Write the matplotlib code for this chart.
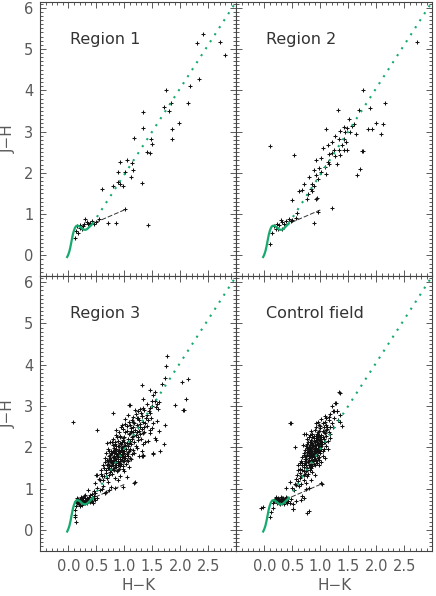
import numpy as np
import matplotlib
matplotlib.use("Agg")
import matplotlib.pyplot as plt
from matplotlib.ticker import MultipleLocator, FixedLocator

# colours
GREEN = "#17aa6e"
GREY = "#5a5a5a"

# intrinsic colour locus (dwarfs + giant tip)
locus_hk = [-0.02, 0.00, 0.02, 0.04, 0.06, 0.08, 0.10, 0.12, 0.14, 0.16, 0.19,
            0.22, 0.25, 0.28, 0.31, 0.34, 0.37, 0.40, 0.43]
locus_jh = [-0.04, 0.02, 0.10, 0.22, 0.36, 0.50, 0.60, 0.67, 0.71, 0.72, 0.71,
            0.68, 0.64, 0.62, 0.62, 0.64, 0.68, 0.72, 0.76]

# reddening vector from the giant tip
redd_hk = [0.43, 3.0]
redd_jh = [0.76, 6.15]

# CTTS locus
ctts_hk = [0.37, 1.0]
ctts_jh = [0.73, 1.10]

region1 = [
    (2.41, 5.36), (2.30, 5.15), (2.70, 5.17), (2.80, 4.86), (2.33, 4.27), (2.18, 4.10),
    (2.14, 3.68), (1.74, 4.00), (1.71, 3.59), (1.80, 3.49), (1.83, 3.69), (1.34, 3.48),
    (1.98, 3.21), (1.85, 3.06), (1.86, 2.81), (1.33, 3.09), (1.17, 2.85), (1.48, 2.83),
    (1.45, 2.48), (1.41, 2.51), (0.92, 2.27), (1.04, 2.31), (1.13, 2.24), (0.89, 2.02),
    (1.02, 2.02), (1.16, 2.06), (1.12, 1.90), (0.92, 1.72), (0.88, 1.77), (0.97, 1.69),
    (0.79, 1.68), (0.61, 1.60), (1.31, 1.76), (1.42, 0.73), (1.01, 1.13), (0.70, 0.79),
    (0.86, 0.79), (1.50, 2.70),
    (0.12, 0.43), (0.14, 0.59), (0.21, 0.67), (0.27, 0.71), (0.30, 0.87), (0.34, 0.81),
    (0.39, 0.79), (0.45, 0.77), (0.18, 0.55), (0.24, 0.63), (0.36, 0.75), (0.42, 0.83),
    (0.16, 0.71), (0.20, 0.73), (0.50, 0.82), (0.55, 0.88), (0.28, 0.76),
]

region2 = [
    (2.72, 5.17), (1.77, 4.00), (1.32, 3.53), (1.69, 3.53), (1.89, 3.57), (2.15, 3.68),
    (2.00, 3.21), (2.12, 3.19), (1.86, 3.07), (1.93, 3.05), (2.09, 2.93), (1.52, 3.31),
    (1.61, 3.19), (1.57, 3.13), (1.48, 3.09), (1.42, 3.10), (1.35, 3.02), (1.44, 2.98),
    (1.53, 2.98), (1.63, 2.93), (1.11, 3.05), (1.26, 2.90), (1.34, 2.82), (1.42, 2.82),
    (1.45, 2.74), (1.13, 2.67), (1.24, 2.56), (1.33, 2.56), (1.42, 2.56), (1.48, 2.56),
    (1.16, 2.46), (1.20, 2.48), (1.26, 2.40), (1.35, 2.44), (1.75, 2.54), (1.77, 2.52),
    (1.13, 2.27), (1.15, 2.22), (1.08, 2.14), (1.29, 2.22), (0.93, 2.32), (0.88, 2.08),
    (0.98, 2.12), (1.01, 2.02), (1.10, 1.96), (0.92, 1.94), (1.71, 2.10), (1.65, 1.94),
    (0.10, 2.65), (0.53, 2.44), (0.95, 1.84), (0.86, 1.72), (0.71, 1.73), (0.62, 1.57),
    (0.67, 1.58), (0.88, 1.68), (0.83, 1.60), (0.86, 1.57), (0.78, 1.48), (0.93, 1.37),
    (0.94, 1.40), (0.50, 1.33), (0.76, 1.37), (0.59, 1.03), (0.96, 1.06), (1.20, 1.15),
    (0.89, 0.79), (1.05, 2.60), (1.20, 2.75), (1.38, 2.68), (1.02, 2.36), (0.80, 1.90),
    (0.11, 0.27), (0.14, 0.55), (0.17, 0.71), (0.23, 0.77), (0.29, 0.85), (0.32, 0.81),
    (0.27, 0.73), (0.35, 0.77), (0.38, 0.83), (0.47, 0.83), (0.50, 0.85), (0.25, 0.65),
    (0.32, 0.63), (0.20, 0.63), (0.44, 0.87), (0.56, 0.91),
]

region3 = [
    (1.76, 4.20), (1.74, 3.98), (2.14, 3.65), (2.03, 3.58), (1.73, 3.67), (1.68, 3.53),
    (1.31, 3.51), (1.45, 3.39), (1.55, 3.35), (1.52, 3.27), (1.34, 3.17), (1.08, 3.03),
    (1.49, 3.11), (2.10, 3.17), (2.07, 2.91), (0.79, 2.83), (0.08, 2.61), (0.51, 2.42),
    (1.73, 2.53), (1.70, 2.08), (1.52, 1.84), (1.34, 1.82), (1.61, 2.93), (1.64, 1.90),
    (1.31, 1.79), (1.19, 1.15),
    (1.54, 3.11), (1.58, 3.05), (1.50, 3.00), (1.91, 3.03), (2.05, 2.91), (1.34, 2.95),
    (1.25, 2.87), (1.19, 2.91), (1.10, 3.03), (1.40, 2.79), (1.46, 2.83), (1.31, 2.75),
    (1.22, 2.71), (1.13, 2.67), (1.07, 2.79), (0.95, 2.55), (1.04, 2.52), (1.16, 2.50),
    (1.28, 2.57), (1.37, 2.59), (1.52, 2.59), (1.01, 2.38), (1.10, 2.34), (1.22, 2.38),
    (1.34, 2.34), (1.46, 2.34), (1.55, 2.22), (0.86, 2.30), (0.92, 2.26), (0.98, 2.22),
    (1.06, 2.20), (1.14, 2.25), (1.25, 2.18), (1.37, 2.12), (0.69, 2.10), (0.75, 2.14),
    (0.80, 2.06), (0.86, 2.02), (0.92, 2.10), (1.00, 2.02), (1.07, 2.04), (1.16, 1.94),
    (1.22, 1.98), (1.31, 1.90), (1.52, 1.86), (1.34, 1.78), (0.72, 1.90), (0.77, 1.86),
    (0.83, 1.94), (0.89, 1.82), (0.95, 1.88), (1.01, 1.78), (1.10, 1.74), (0.66, 1.74),
    (0.72, 1.70), (0.79, 1.66), (0.85, 1.71), (0.91, 1.62), (0.98, 1.66), (0.69, 1.58),
    (0.76, 1.54), (0.82, 1.50), (0.89, 1.46), (1.00, 1.42), (0.58, 1.46), (0.51, 1.34),
    (0.60, 1.30), (0.69, 1.26), (0.89, 1.21), (0.57, 1.21), (0.48, 1.13), (1.18, 1.13),
    (0.98, 1.04), (0.83, 1.01), (0.72, 0.97), (0.60, 0.99), (0.66, 0.89), (0.36, 0.97),
    (0.30, 0.85), (0.39, 0.85), (0.45, 0.81), (0.24, 0.77), (0.18, 0.75), (0.33, 0.73),
    (0.41, 0.69), (0.27, 0.65), (0.15, 0.65), (0.21, 0.57), (0.12, 0.49), (0.12, 0.37),
    (0.48, 0.89),
    (1.40, 3.05), (1.45, 2.95), (1.62, 3.10), (1.36, 2.90), (1.57, 2.98), (1.28, 2.93),
    (1.20, 2.80), (1.30, 2.82), (1.38, 2.72), (1.26, 2.65), (1.42, 2.66), (1.15, 2.74),
    (1.09, 2.62), (1.33, 2.62), (1.48, 2.72), (1.18, 2.60), (1.58, 2.64), (1.02, 2.68),
    (0.98, 2.45), (1.05, 2.40), (1.12, 2.46), (1.19, 2.42), (1.25, 2.48), (1.31, 2.44),
    (1.40, 2.52), (1.45, 2.42), (0.90, 2.36), (1.08, 2.32), (1.16, 2.36), (1.28, 2.33),
    (1.36, 2.38), (0.94, 2.50), (1.22, 2.55), (1.50, 2.47), (1.62, 2.40), (0.86, 2.42),
    (1.02, 2.56),
    (0.80, 2.20), (0.88, 2.16), (0.95, 2.12), (1.00, 2.25), (1.04, 2.10), (1.10, 2.16),
    (1.18, 2.12), (1.24, 2.26), (1.30, 2.20), (0.84, 2.08), (0.91, 2.04), (0.98, 2.18),
    (1.06, 2.02), (1.12, 2.08), (1.20, 2.04), (0.78, 2.12), (0.93, 2.28), (1.15, 2.28),
    (1.34, 2.08), (1.42, 2.16), (1.56, 2.18), (0.87, 2.24), (1.02, 2.06), (0.96, 2.00),
    (0.70, 1.95), (0.76, 1.92), (0.82, 1.88), (0.86, 1.97), (0.90, 1.84), (0.94, 1.93),
    (0.99, 1.86), (1.03, 1.96), (1.08, 1.90), (1.13, 1.84), (0.74, 1.82), (0.79, 1.77),
    (0.84, 1.74), (0.88, 1.80), (0.92, 1.72), (0.97, 1.78), (1.02, 1.74), (1.07, 1.80),
    (1.18, 1.86), (1.26, 1.80), (0.68, 1.86), (0.81, 1.98), (0.95, 1.99), (1.11, 1.96),
    (0.86, 1.86), (0.93, 1.88), (0.78, 1.86), (1.00, 1.92), (1.05, 1.84), (0.89, 1.76),
    (0.66, 1.64), (0.71, 1.60), (0.75, 1.68), (0.80, 1.56), (0.84, 1.64), (0.88, 1.58),
    (0.93, 1.66), (0.97, 1.54), (1.03, 1.60), (0.70, 1.50), (0.76, 1.46), (0.82, 1.44),
    (0.86, 1.52), (0.91, 1.48), (0.62, 1.56), (0.78, 1.62), (0.99, 1.68), (1.08, 1.52),
    (0.73, 1.56), (0.84, 1.68), (0.89, 1.66), (0.94, 1.60),
    (0.74, 1.74), (0.81, 1.70), (0.87, 1.78), (0.93, 1.82), (0.99, 1.74), (0.77, 1.64),
    (0.83, 1.58), (0.90, 1.62), (0.96, 1.70), (1.04, 1.70), (0.72, 1.78), (0.79, 1.92),
    (0.85, 1.84), (0.91, 1.94), (0.97, 1.90), (1.06, 1.88), (0.88, 2.02), (0.94, 2.08),
    (1.00, 2.14), (1.08, 2.10), (1.14, 2.20), (0.83, 2.14), (0.89, 1.90), (0.95, 1.76),
    (0.80, 1.48), (0.87, 1.42), (0.75, 1.40), (0.68, 1.44), (0.64, 1.50), (0.71, 1.66),
    (1.12, 2.40), (1.20, 2.30), (1.26, 2.40), (1.10, 2.55), (1.16, 2.62), (1.24, 2.70),
    (1.32, 2.76), (1.44, 2.88), (1.35, 2.50), (1.28, 2.48), (0.92, 1.54), (0.98, 1.48),
    (1.06, 1.66), (1.12, 1.72), (0.86, 1.62), (0.81, 1.80), (0.77, 1.70), (0.73, 1.50),
    (0.69, 1.70), (0.96, 1.84),
    (0.58, 1.36), (0.64, 1.30), (0.68, 1.38), (0.72, 1.32), (0.78, 1.36), (0.84, 1.26),
    (0.92, 1.30), (0.55, 1.24), (0.62, 1.20), (0.70, 1.16), (1.05, 1.28), (0.50, 1.32),
    (0.52, 1.02), (0.56, 0.96), (0.62, 1.06), (0.46, 0.94), (0.68, 0.92), (0.76, 1.04),
    (0.42, 0.88),
    (0.14, 0.70), (0.18, 0.68), (0.20, 0.74), (0.22, 0.70), (0.24, 0.66), (0.26, 0.72),
    (0.28, 0.68), (0.30, 0.76), (0.32, 0.70), (0.34, 0.66), (0.36, 0.72), (0.38, 0.68),
    (0.40, 0.74), (0.16, 0.76), (0.22, 0.80), (0.26, 0.78), (0.30, 0.64), (0.34, 0.78),
    (0.42, 0.70), (0.45, 0.76), (0.19, 0.62), (0.25, 0.60), (0.28, 0.82), (0.37, 0.80),
    (0.13, 0.58), (0.31, 0.73), (0.23, 0.75), (0.27, 0.64), (0.35, 0.69), (0.17, 0.66),
    (0.12, 0.30), (0.13, 0.20), (0.48, 0.72), (0.52, 0.78), (0.44, 0.66),
]

control = [
    (1.35, 3.31), (1.28, 3.07), (1.25, 2.87), (1.30, 2.89), (1.36, 2.79), (1.16, 2.74),
    (0.47, 2.58), (0.92, 2.58), (0.74, 2.33), (1.35, 2.62), (1.39, 2.52), (1.03, 1.12),
    (0.80, 0.45), (0.51, 0.51), (0.74, 0.99), (0.80, 1.01), (0.71, 0.77), (0.68, 0.83),
    (0.65, 0.73), (0.45, 1.15), (0.38, 1.01), (0.53, 0.97), (0.56, 1.09),
    (1.33, 3.33), (1.26, 3.08), (1.20, 3.01), (1.23, 2.88), (1.29, 2.88), (0.46, 2.59),
    (0.71, 2.32), (0.55, 2.00), (1.32, 2.65), (1.11, 2.71), (1.17, 2.50),
    (-0.06, 0.54), (0.76, 0.42), (0.51, 0.50), (1.02, 1.13),
    (1.05, 2.60), (1.10, 2.55), (1.15, 2.66), (1.00, 2.52), (1.20, 2.58), (0.95, 2.62),
    (1.08, 2.75), (1.18, 2.80), (1.25, 2.70), (1.02, 2.68),
    (0.90, 2.42), (0.95, 2.36), (1.00, 2.46), (1.04, 2.40), (1.08, 2.34), (1.12, 2.45),
    (0.86, 2.32), (0.98, 2.30), (1.15, 2.38), (1.22, 2.48), (0.92, 2.48), (1.06, 2.48),
    (1.18, 2.32), (0.83, 2.40),
    (0.80, 2.25), (0.84, 2.18), (0.88, 2.28), (0.91, 2.14), (0.94, 2.22), (0.97, 2.17),
    (1.00, 2.26), (1.03, 2.12), (1.07, 2.20), (1.11, 2.28), (0.78, 2.12), (0.86, 2.10),
    (0.92, 2.27), (0.99, 2.11), (1.05, 2.24), (1.14, 2.16), (0.82, 2.30), (0.95, 2.19),
    (0.89, 2.22), (1.01, 2.19), (1.09, 2.12), (0.76, 2.20), (1.18, 2.22),
    (0.74, 2.02), (0.78, 1.96), (0.81, 2.06), (0.84, 1.94), (0.87, 2.02), (0.90, 1.92),
    (0.93, 2.05), (0.96, 1.98), (0.99, 1.92), (1.02, 2.04), (1.06, 1.96), (0.72, 1.94),
    (0.80, 1.92), (0.86, 2.08), (0.91, 1.99), (0.95, 2.08), (1.00, 2.00), (1.10, 2.04),
    (0.77, 2.08), (0.83, 1.99), (0.88, 1.95), (0.94, 1.94), (0.97, 2.03), (1.04, 1.92),
    (0.69, 2.05), (1.14, 1.95),
    (0.70, 1.86), (0.73, 1.78), (0.76, 1.88), (0.79, 1.74), (0.82, 1.84), (0.85, 1.76),
    (0.88, 1.86), (0.91, 1.72), (0.94, 1.82), (0.97, 1.76), (1.00, 1.86), (0.68, 1.76),
    (0.74, 1.72), (0.80, 1.80), (0.86, 1.82), (0.92, 1.88), (0.98, 1.70), (1.04, 1.80),
    (0.77, 1.82), (0.83, 1.70), (0.89, 1.79), (0.95, 1.74), (0.71, 1.82), (0.84, 1.88),
    (1.08, 1.74),
    (0.64, 1.62), (0.68, 1.56), (0.72, 1.66), (0.75, 1.58), (0.78, 1.64), (0.81, 1.52),
    (0.84, 1.60), (0.87, 1.66), (0.90, 1.56), (0.94, 1.62), (0.66, 1.68), (0.70, 1.52),
    (0.76, 1.50), (0.80, 1.68), (0.86, 1.54), (0.92, 1.66), (0.98, 1.58), (0.73, 1.61),
    (0.82, 1.58), (1.02, 1.64), (0.60, 1.58),
    (0.78, 1.88), (0.82, 1.78), (0.86, 1.90), (0.90, 1.80), (0.93, 1.98), (0.87, 1.84),
    (0.81, 1.94), (0.75, 1.80), (0.79, 1.70), (0.85, 1.66), (0.89, 1.72), (0.93, 1.70),
    (0.96, 1.88), (0.99, 2.00), (1.02, 1.96), (0.94, 2.12), (0.90, 2.06), (0.85, 2.00),
    (0.82, 2.12), (0.88, 2.16), (0.96, 2.25), (1.02, 2.30), (1.06, 2.38), (1.10, 2.42),
    (0.98, 2.40), (0.94, 2.32), (0.79, 1.58), (0.75, 1.64), (0.71, 1.56), (0.77, 1.46),
    (0.83, 1.50), (0.88, 1.60), (0.72, 1.72), (0.84, 1.82), (0.91, 1.86), (0.97, 1.94),
    (1.03, 2.08), (1.07, 2.14), (0.80, 2.00), (0.76, 1.98), (0.67, 1.62), (0.70, 1.42),
    (0.73, 1.36), (1.12, 2.50), (1.08, 2.62), (0.98, 2.54), (1.00, 2.16), (0.92, 2.18),
    (0.86, 2.24), (0.81, 1.86),
    (0.60, 1.44), (0.64, 1.38), (0.68, 1.46), (0.71, 1.34), (0.74, 1.42), (0.78, 1.36),
    (0.82, 1.46), (0.86, 1.40), (0.58, 1.32), (0.66, 1.30), (0.90, 1.34), (0.63, 1.48),
    (0.76, 1.30),
    (0.56, 1.24), (0.60, 1.18), (0.64, 1.26), (0.70, 1.20), (0.54, 1.10), (0.62, 1.06),
    (0.74, 1.14), (0.50, 1.02), (0.84, 1.22), (0.66, 1.12),
    (0.18, 0.70), (0.20, 0.76), (0.22, 0.72), (0.24, 0.68), (0.25, 0.78), (0.27, 0.74),
    (0.29, 0.70), (0.31, 0.76), (0.33, 0.72), (0.35, 0.68), (0.37, 0.74), (0.39, 0.70),
    (0.21, 0.80), (0.26, 0.66), (0.30, 0.80), (0.34, 0.78), (0.38, 0.80), (0.41, 0.76),
    (0.23, 0.64), (0.28, 0.62), (0.32, 0.66), (0.36, 0.62), (0.19, 0.74), (0.43, 0.70),
    (0.45, 0.66), (0.26, 0.71), (0.30, 0.73), (0.34, 0.74), (0.22, 0.68), (0.40, 0.64),
    (0.16, 0.66), (0.47, 0.74), (0.52, 0.62), (0.56, 0.70), (0.12, 0.44), (0.10, 0.30),
    (0.15, 0.52), (-0.02, 0.55),
]

panels = [("Region 1", region1), ("Region 2", region2),
          ("Region 3", region3), ("Control field", control)]

W, H = 436, 596
fig = plt.figure(figsize=(W / 100, H / 100), dpi=100)

# panel edges in pixels
xl = [40.3, 236.3]
pw = 196.0
yt = [1.5, 276.0]
ph = 274.5

for i, (name, pts) in enumerate(panels):
    r, c = divmod(i, 2)
    ax = fig.add_axes([xl[c] / W, 1 - (yt[r] + ph) / H, pw / W, ph / H])
    pts = np.array(pts)

    ax.plot(locus_hk, locus_jh, color=GREEN, lw=1.6, zorder=3)
    ax.plot(redd_hk, redd_jh, color=GREEN, lw=1.5, ls=(0, (1, 3.0)), zorder=3)
    ax.plot(ctts_hk, ctts_jh, color="#333333", lw=0.7, ls=(0, (5, 2)), zorder=2)
    ax.plot(pts[:, 0], pts[:, 1], ls="none", marker="+", ms=2.2, mew=0.75,
            color="#111111", zorder=2)

    ax.set_xlim(-0.5, 3.0)
    ax.set_ylim(-0.5, 6.15)
    ax.xaxis.set_major_locator(FixedLocator([0, 0.5, 1.0, 1.5, 2.0, 2.5]))
    ax.xaxis.set_minor_locator(MultipleLocator(0.1))
    ax.yaxis.set_major_locator(MultipleLocator(1))
    ax.yaxis.set_minor_locator(MultipleLocator(0.1))
    ax.tick_params(which="both", direction="in", top=True, right=True,
                   color=GREY, labelcolor=GREY, labelsize=10.5, width=0.7)
    ax.tick_params(which="major", length=4.5)
    ax.tick_params(which="minor", length=2.3)
    ax.tick_params(axis="x", pad=6)
    ax.tick_params(axis="y", pad=5)
    for s in ax.spines.values():
        s.set_color("#444444")
        s.set_linewidth(0.8)

    if r == 1:
        ax.set_xticklabels(["0.0", "0.5", "1.0", "1.5", "2.0", "2.5"])
        ax.set_xlabel("H\u2212K", color=GREY, fontsize=11, labelpad=3)
    else:
        ax.set_xticklabels([])
    if c == 0:
        ax.set_ylabel("J\u2212H", color=GREY, fontsize=11, labelpad=6)
    else:
        ax.set_yticklabels([])

    ax.text(0.152, 0.863, name, transform=ax.transAxes, fontsize=11.5,
            color="#333333", va="center", ha="left")

fig.savefig("out.png", dpi=100)
